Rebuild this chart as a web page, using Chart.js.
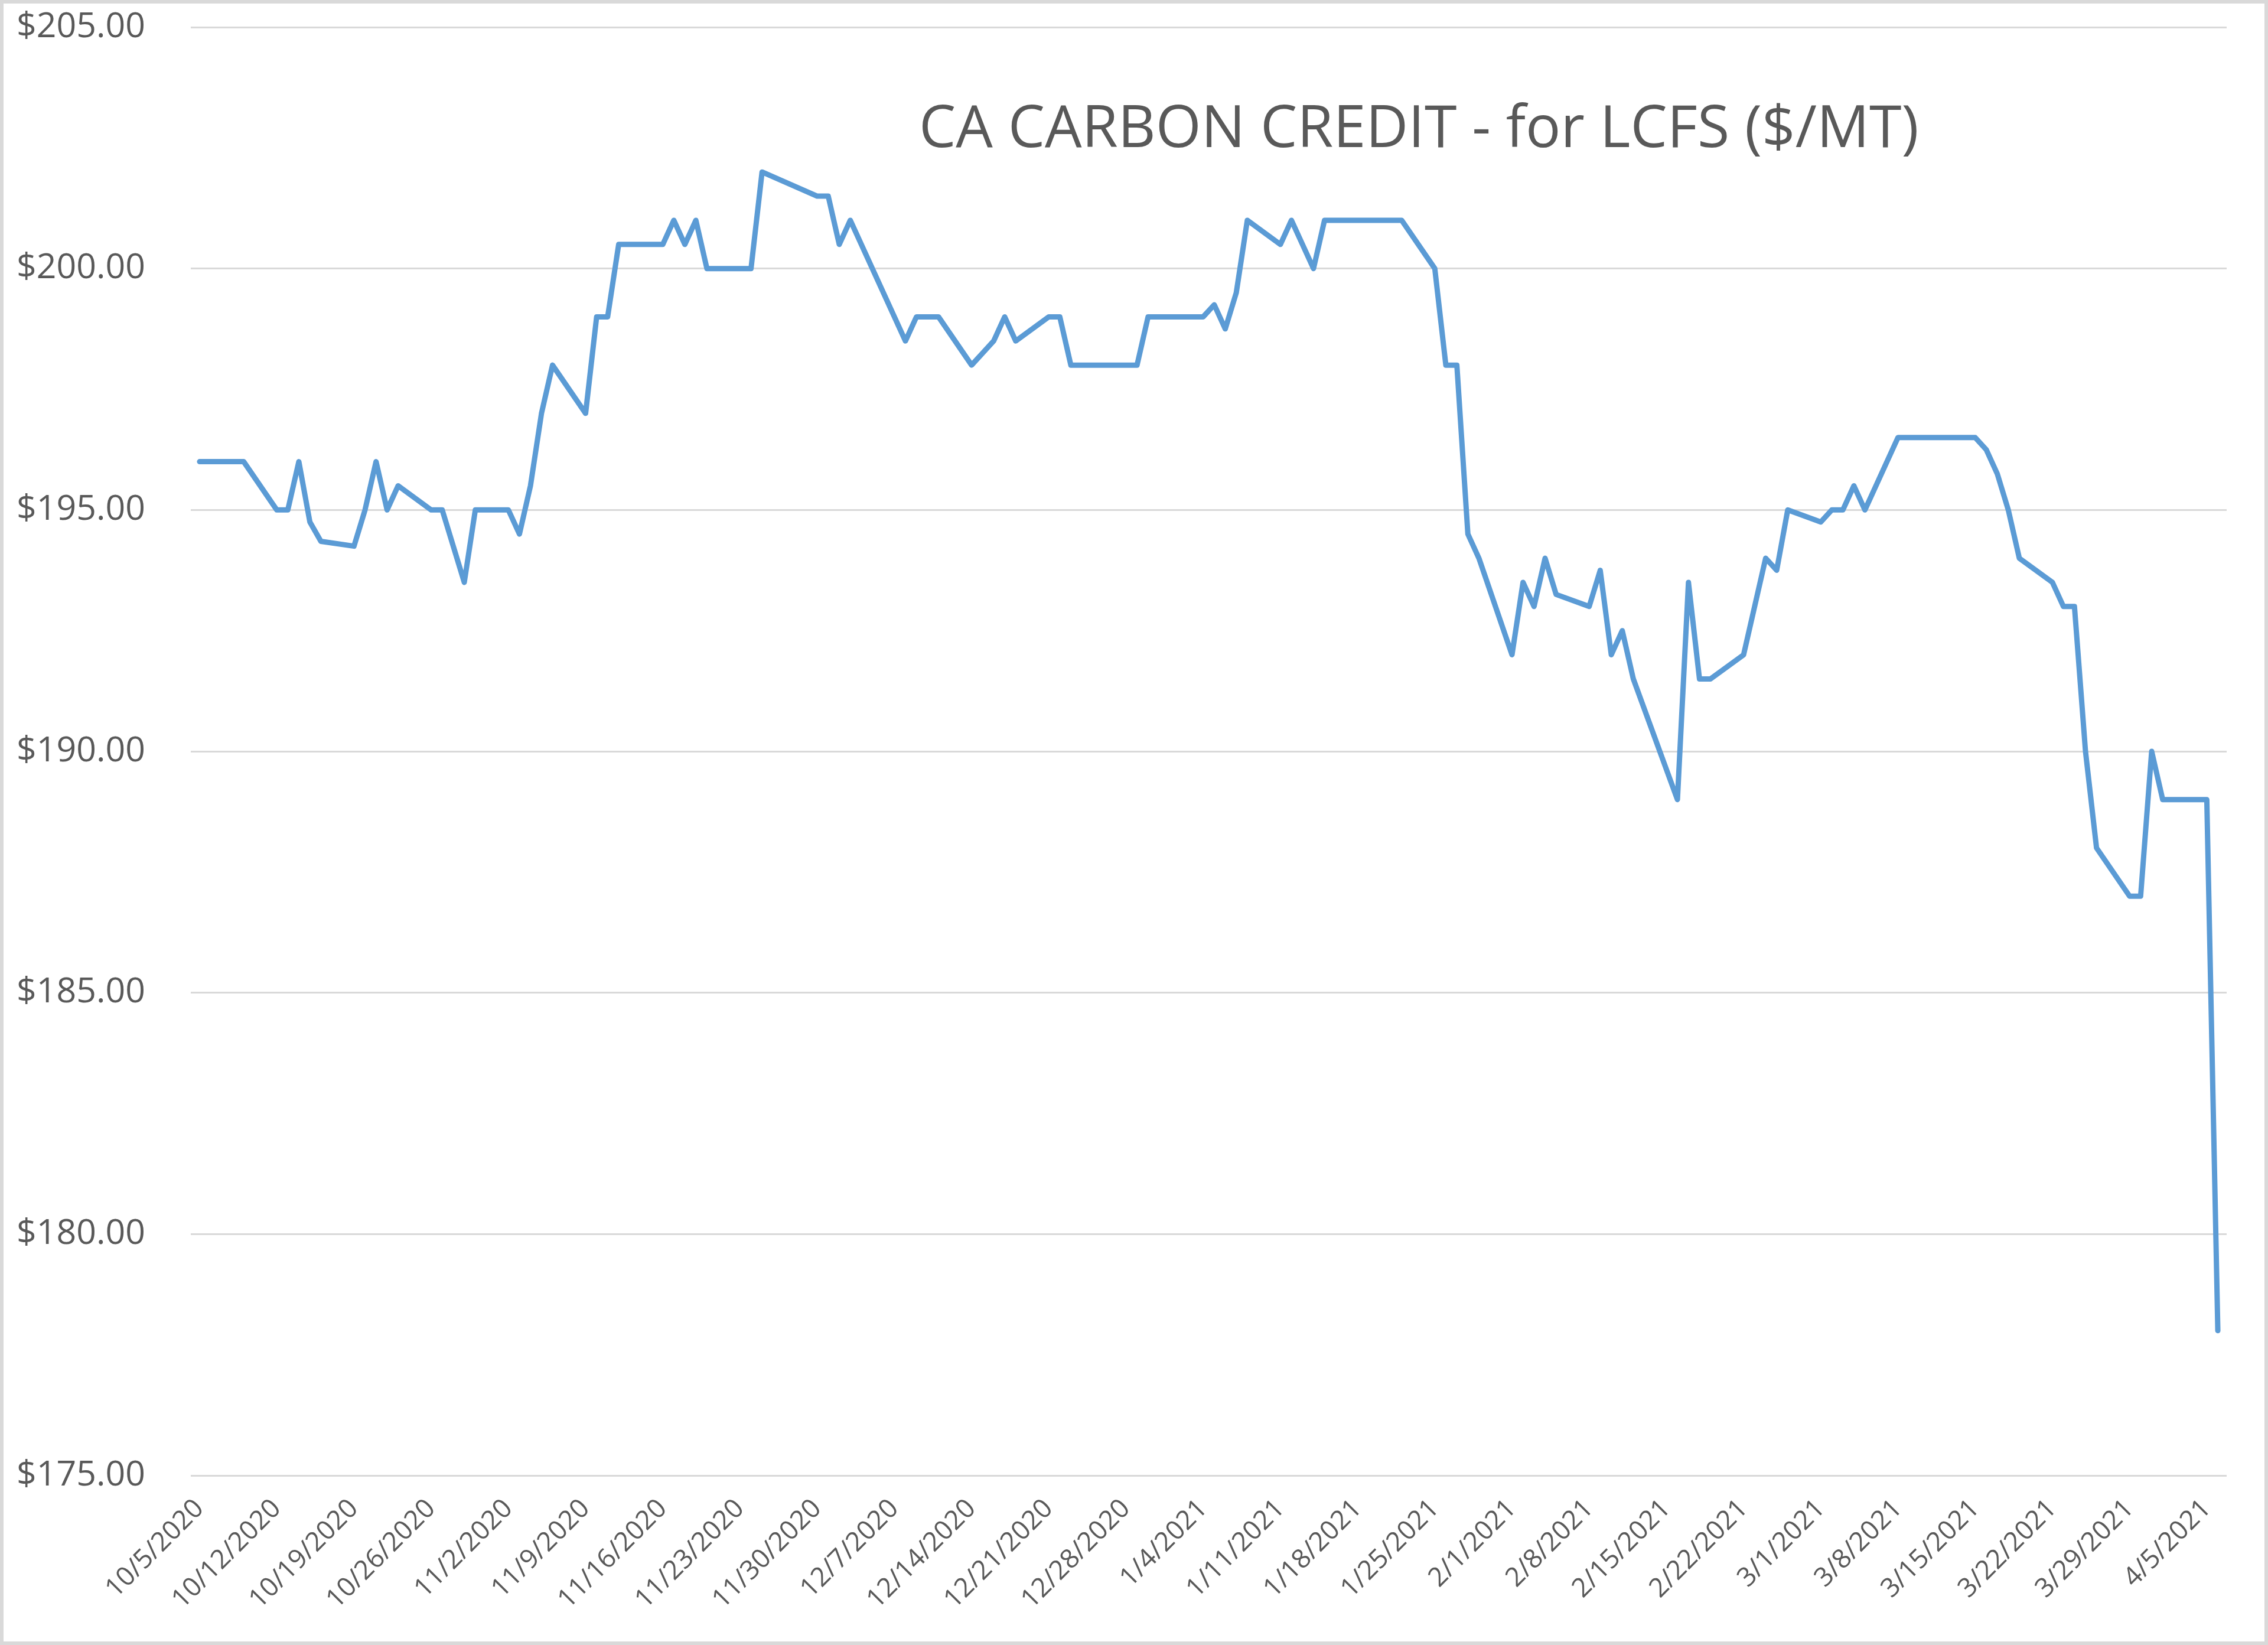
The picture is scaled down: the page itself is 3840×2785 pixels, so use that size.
<!DOCTYPE html>
<html>
<head>
<meta charset="utf-8">
<script src="https://cdn.jsdelivr.net/npm/chart.js@4.4.1/dist/chart.umd.min.js"></script>
<style>
  html, body { margin: 0; padding: 0; background: #fff; }
  canvas { display: block; }
</style>
</head>
<body>
<canvas id="chart" width="3840" height="2785"></canvas>
<script>
const chartTitle = 'CA CARBON CREDIT - for LCFS ($/MT)';

const dates = [
  '10/5/2020', '10/6/2020', '10/7/2020', '10/8/2020', '10/9/2020',
  '10/12/2020', '10/13/2020', '10/14/2020', '10/15/2020', '10/16/2020',
  '10/19/2020', '10/20/2020', '10/21/2020', '10/22/2020', '10/23/2020',
  '10/26/2020', '10/27/2020', '10/29/2020', '10/30/2020',
  '11/2/2020', '11/3/2020', '11/4/2020', '11/5/2020', '11/6/2020',
  '11/9/2020', '11/10/2020', '11/11/2020', '11/12/2020', '11/13/2020',
  '11/16/2020', '11/17/2020', '11/18/2020', '11/19/2020', '11/20/2020',
  '11/23/2020', '11/24/2020', '11/25/2020',
  '11/30/2020', '12/1/2020', '12/2/2020', '12/3/2020',
  '12/8/2020', '12/9/2020', '12/10/2020', '12/11/2020',
  '12/14/2020', '12/15/2020', '12/16/2020', '12/17/2020', '12/18/2020',
  '12/21/2020', '12/22/2020', '12/23/2020', '12/24/2020',
  '12/28/2020', '12/29/2020', '12/30/2020', '12/31/2020',
  '1/4/2021', '1/5/2021', '1/6/2021', '1/7/2021', '1/8/2021',
  '1/11/2021', '1/12/2021', '1/14/2021', '1/15/2021',
  '1/19/2021', '1/20/2021', '1/21/2021', '1/22/2021',
  '1/25/2021', '1/26/2021', '1/27/2021', '1/28/2021', '1/29/2021',
  '2/1/2021', '2/2/2021', '2/3/2021', '2/4/2021', '2/5/2021',
  '2/8/2021', '2/9/2021', '2/10/2021', '2/11/2021', '2/12/2021',
  '2/16/2021', '2/17/2021', '2/18/2021', '2/19/2021',
  '2/22/2021', '2/24/2021', '2/25/2021', '2/26/2021',
  '3/1/2021', '3/2/2021', '3/3/2021', '3/4/2021', '3/5/2021',
  '3/8/2021', '3/9/2021', '3/10/2021', '3/11/2021', '3/12/2021',
  '3/15/2021', '3/16/2021', '3/17/2021', '3/18/2021', '3/19/2021',
  '3/22/2021', '3/23/2021', '3/24/2021', '3/25/2021', '3/26/2021',
  '3/29/2021', '3/30/2021', '3/31/2021', '4/1/2021',
  '4/5/2021', '4/6/2021'
];

const prices = [
  196, 196, 196, 196, 196,
  195, 195, 196, 194.75, 194.35,
  194.25, 195, 196, 195, 195.5,
  195, 195, 193.5, 195,
  195, 194.5, 195.5, 197, 198,
  197, 199, 199, 200.5, 200.5,
  200.5, 201, 200.5, 201, 200,
  200, 200, 202,
  201.5, 201.5, 200.5, 201,
  198.5, 199, 199, 199,
  198, 198.25, 198.5, 199, 198.5,
  199, 199, 198, 198,
  198, 198, 199, 199,
  199, 199.25, 198.75, 199.5, 201,
  200.5, 201, 200, 201,
  201, 201, 201, 201,
  200, 198, 198, 194.5, 194,
  192, 193.5, 193, 194, 193.25,
  193, 193.75, 192, 192.5, 191.5,
  189, 193.5, 191.5, 191.5,
  192, 194, 193.75, 195,
  194.75, 195, 195, 195.5, 195,
  196.5, 196.5, 196.5, 196.5, 196.5,
  196.5, 196.25, 195.75, 195, 194,
  193.5, 193, 193, 190, 188,
  187, 187, 190, 189,
  189, 178
];

const tickLabels = [
  '10/5/2020', '10/12/2020', '10/19/2020', '10/26/2020', '11/2/2020',
  '11/9/2020', '11/16/2020', '11/23/2020', '11/30/2020', '12/7/2020',
  '12/14/2020', '12/21/2020', '12/28/2020', '1/4/2021', '1/11/2021',
  '1/18/2021', '1/25/2021', '2/1/2021', '2/8/2021', '2/15/2021',
  '2/22/2021', '3/1/2021', '3/8/2021', '3/15/2021', '3/22/2021',
  '3/29/2021', '4/5/2021'
];

const yMin = 175;
const yMax = 205;
const yStep = 5;

// days counted from the first date
const dayIndex = (str) => {
  const [m, d, y] = str.split('/').map(Number);
  const base = Date.UTC(2020, 9, 5);
  return Math.round((Date.UTC(y, m - 1, d) - base) / 86400000);
};

const tickDays = tickLabels.map(dayIndex);
const labelByDay = {};
tickLabels.forEach((t, i) => { labelByDay[tickDays[i]] = t; });

const points = dates.map((d, i) => ({ x: dayIndex(d), y: prices[i] }));

const frameAndTitle = {
  id: 'frameAndTitle',
  beforeDraw(chart) {
    const ctx = chart.ctx;
    ctx.save();
    ctx.fillStyle = '#ffffff';
    ctx.fillRect(0, 0, chart.width, chart.height);
    ctx.restore();
  },
  afterDraw(chart) {
    const ctx = chart.ctx;
    ctx.save();
    ctx.font = '99px "Open Sans"';
    ctx.fillStyle = '#595959';
    ctx.textAlign = 'left';
    ctx.textBaseline = 'alphabetic';
    ctx.fillText(chartTitle, 1556, 249);
    ctx.strokeStyle = '#d9d9d9';
    ctx.lineWidth = 6;
    ctx.strokeRect(3, 3, chart.width - 6, chart.height - 6);
    ctx.restore();
  }
};

const build = () => {
  const ctx = document.getElementById('chart').getContext('2d');
  window.myChart = new Chart(ctx, {
    type: 'line',
    data: {
      datasets: [
        {
          label: chartTitle,
          data: points,
          borderColor: '#5B9BD5',
          backgroundColor: '#5B9BD5',
          borderWidth: 9,
          pointRadius: 0,
          tension: 0,
          fill: false,
          borderJoinStyle: 'round',
          borderCapStyle: 'round',
        },
      ],
    },
    options: {
      responsive: false,
      animation: false,
      devicePixelRatio: 1,
      layout: {
        padding: { left: 0, right: 70, top: 46, bottom: 0 },
      },
      plugins: {
        legend: { display: false },
        title: { display: false },
        tooltip: { enabled: false },
      },
      scales: {
        x: {
          type: 'linear',
          min: -0.8,
          max: 183.8,
          afterBuildTicks: (scale) => {
            scale.ticks = tickDays.map((v) => ({ value: v }));
          },
          afterFit: (scale) => {
            scale.height = 287;
            scale.paddingLeft = 0;
            scale.paddingRight = 0;
          },
          grid: { display: false, drawTicks: false },
          border: { display: false },
          ticks: {
            autoSkip: false,
            minRotation: 45,
            maxRotation: 45,
            padding: 30,
            color: '#595959',
            font: { family: 'Open Sans', size: 45 },
            callback: (v) => labelByDay[v] || '',
          },
        },
        y: {
          min: yMin,
          max: yMax,
          afterFit: (scale) => {
            scale.width = 323;
            scale.paddingTop = 0;
            scale.paddingBottom = 0;
          },
          grid: { color: '#d9d9d9', lineWidth: 3, drawTicks: false },
          border: { display: false },
          ticks: {
            stepSize: yStep,
            padding: 77,
            color: '#595959',
            font: { family: 'Open Sans', size: 59 },
            callback: (v) => '$' + Number(v).toFixed(2),
          },
        },
      },
    },
    plugins: [frameAndTitle],
  });
};

if (document.fonts && document.fonts.load) {
  Promise.all([
    document.fonts.load('99px "Open Sans"'),
    document.fonts.load('59px "Open Sans"'),
  ]).then(build, build);
} else {
  build();
}
</script>
</body>
</html>
